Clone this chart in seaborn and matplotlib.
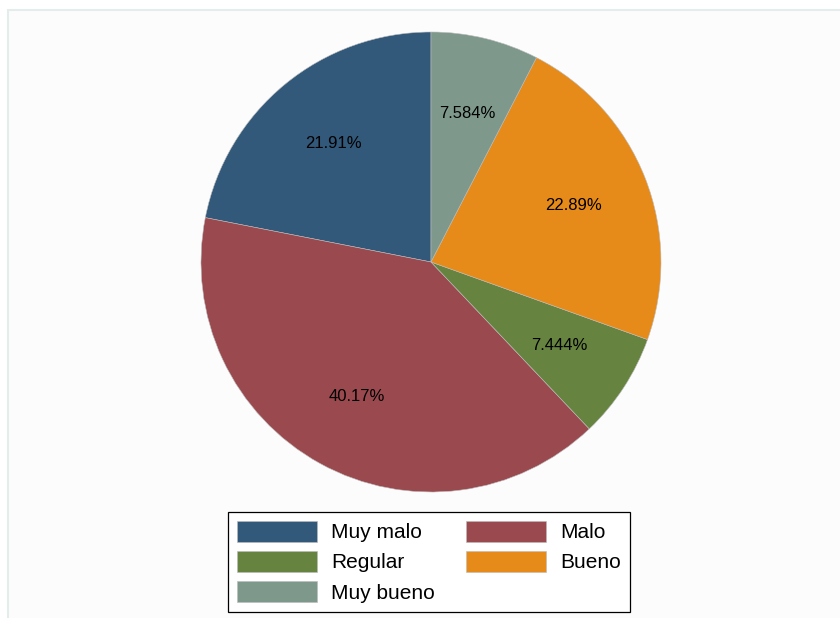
import matplotlib
matplotlib.use("Agg")
import matplotlib.pyplot as plt
import seaborn as sns
import numpy as np
from matplotlib.patches import Rectangle

categories = ["Muy malo", "Malo", "Regular", "Bueno", "Muy bueno"]
shares = [21.91, 40.17, 7.444, 22.89, 7.584]
pct_labels = ["21.91%", "40.17%", "7.444%", "22.89%", "7.584%"]
colors = ["#32587a", "#9a4a4f", "#66833f", "#e68a1a", "#7e998c"]

sns.set_style("white")
plt.rcParams["font.family"] = ["Liberation Sans", "DejaVu Sans"]
plt.rcParams["text.color"] = "black"
palette = sns.color_palette(colors)

fig = plt.figure(figsize=(8.4, 6.18), dpi=100)
fig.patch.set_facecolor("white")

# light graph-region frame (cropped on the right and bottom)
fig.patches.append(Rectangle((8 / 840, -0.05), 1.2, 1 - 10 / 618 + 0.05,
                             transform=fig.transFigure, facecolor="#fcfcfc",
                             edgecolor="#e4ecec", linewidth=1.5, zorder=-5))

ax = fig.add_axes([201 / 840, 1 - 492 / 618, 460 / 840, 460 / 618])
ax.patch.set_alpha(0)
ax.set_zorder(2)
wedges, _ = ax.pie(shares, colors=palette, startangle=90, counterclock=True,
                   wedgeprops=dict(linewidth=0.4, edgecolor="#bbbbbb"))
ax.set_xlim(-1, 1)
ax.set_ylim(-1, 1)
ax.set_aspect("equal")

# percentage labels placed at the wedge middles
for w, lab in zip(wedges, pct_labels):
    ang = np.deg2rad((w.theta1 + w.theta2) / 2)
    ax.text(0.665 * np.cos(ang), 0.665 * np.sin(ang), lab,
            ha="center", va="center", fontsize=12, color="black")

order = [0, 2, 4, 1, 3]
leg = fig.legend([wedges[i] for i in order], [categories[i] for i in order],
                 ncol=2, loc="upper left",
                 bbox_to_anchor=(228 / 840, 1 - 512 / 618),
                 bbox_transform=fig.transFigure, borderaxespad=0,
                 fontsize=15, frameon=True, fancybox=False, framealpha=1,
                 edgecolor="black", handlelength=3.85, handleheight=1.15,
                 handletextpad=0.67, columnspacing=1.5, labelspacing=0.42,
                 borderpad=0.43)
leg.get_frame().set_linewidth(0.9)
leg.set_zorder(3)

fig.savefig("out.png", dpi=100)
